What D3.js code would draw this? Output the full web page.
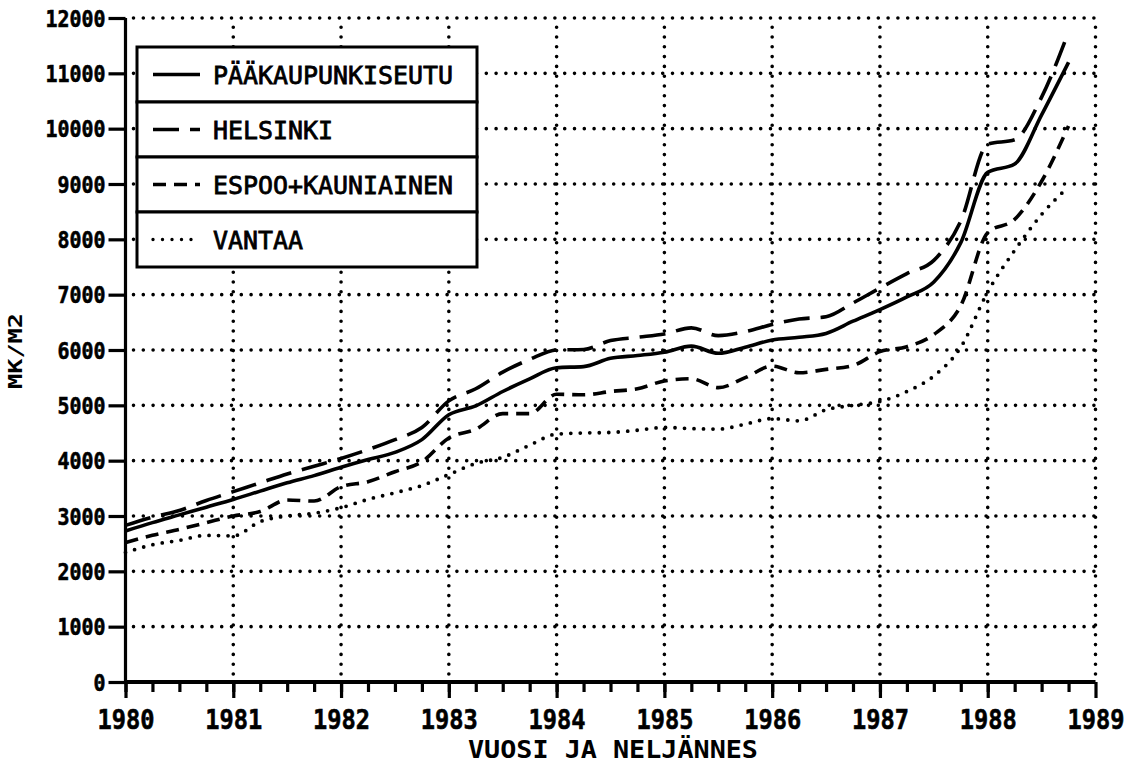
<!DOCTYPE html>
<html>
<head>
<meta charset="utf-8">
<script src="https://cdn.jsdelivr.net/npm/d3@7"></script>
<style>
    body { margin: 0; background: #fff; }
    svg text { font-family: "DejaVu Sans Mono", monospace; fill: #000; }
</style>
</head>
<body>
<svg id="chart" width="1133" height="768"></svg>
<script>
// quarterly data, MK/M2
var quarters = ["1980-1","1980-2","1980-3","1980-4","1981-1","1981-2","1981-3","1981-4",
                "1982-1","1982-2","1982-3","1982-4","1983-1","1983-2","1983-3","1983-4",
                "1984-1","1984-2","1984-3","1984-4","1985-1","1985-2","1985-3","1985-4",
                "1986-1","1986-2","1986-3","1986-4","1987-1","1987-2","1987-3","1987-4",
                "1988-1","1988-2","1988-3","1988-4"];

var paakaupunkiseutu = [2730,2880,3020,3160,3300,3450,3600,3730,3880,4020,4150,4380,
                        4830,4990,5250,5480,5680,5700,5850,5900,5960,6070,5940,6050,
                        6180,6230,6300,6520,6730,6960,7230,7940,9210,9360,10250,11200];
var helsinki = [2830,2980,3100,3280,3440,3600,3760,3900,4040,4200,4380,4600,
                5080,5300,5600,5830,6000,6010,6170,6230,6290,6400,6260,6330,
                6460,6560,6600,6850,7120,7380,7620,8330,9720,9800,10570,11750];
var espooKauniainen = [2520,2650,2760,2880,3000,3080,3290,3270,3530,3620,3800,3980,
                       4410,4570,4850,4850,5200,5190,5250,5300,5440,5480,5320,5500,
                       5710,5590,5650,5720,5970,6060,6280,6800,8120,8360,9050,10050];
var vantaa = [2340,2480,2560,2650,2640,2900,3000,3050,3150,3300,3420,3550,
              3750,3950,4060,4280,4480,4500,4510,4550,4600,4580,4570,4660,
              4760,4720,4920,5000,5070,5250,5530,6050,7050,7800,8450,8950];

var seriesNames = ["PÄÄKAUPUNKISEUTU", "HELSINKI", "ESPOO+KAUNIAINEN", "VANTAA"];
var yearTicks = [1980,1981,1982,1983,1984,1985,1986,1987,1988,1989];
var valueTicks = [0,1000,2000,3000,4000,5000,6000,7000,8000,9000,10000,11000,12000];

var dashStyles = ["none", "26,11", "13,8", "0,9.5"];

var svg = d3.select("#chart");
var x = d3.scaleLinear().domain([1980, 1989]).range([125.5, 1095.5]);
var y = d3.scaleLinear().domain([0, 12000]).range([682, 18]);

function quarterToYear(q) {
    var p = q.split("-");
    return +p[0] + (+p[1] - 1) / 4;
}

function drawGrid() {
    var g = svg.append("g");
    // horizontal dotted lines
    g.selectAll(".hgrid").data(valueTicks.slice(1)).enter().append("line")
        .attr("x1", x(1980) + 8).attr("x2", x(1989))
        .attr("y1", function(d){ return y(d); }).attr("y2", function(d){ return y(d); })
        .attr("stroke", "#000").attr("stroke-width", 3.6)
        .attr("stroke-linecap", "round").attr("stroke-dasharray", "0,9.8");
    // vertical dotted lines
    g.selectAll(".vgrid").data(yearTicks.slice(1)).enter().append("line")
        .attr("x1", function(d){ return x(d); }).attr("x2", function(d){ return x(d); })
        .attr("y1", y(0) - 8).attr("y2", y(12000))
        .attr("stroke", "#000").attr("stroke-width", 3.6)
        .attr("stroke-linecap", "round").attr("stroke-dasharray", "0,9.8");
}

function drawAxes() {
    // y axis with outside ticks
    var yAxis = d3.axisLeft(y).tickValues(valueTicks).tickSize(17).tickPadding(3)
        .tickFormat(d3.format("d"));
    var gy = svg.append("g").attr("transform", "translate(" + x(1980) + ",0)").call(yAxis);
    gy.select(".domain").attr("stroke-width", 3.2).attr("d", "M0," + y(0) + "V" + y(12000));
    gy.selectAll(".tick line").attr("stroke-width", 3.2);
    gy.selectAll(".tick text")
        .attr("font-size", 23).attr("font-weight", "bold")
        .attr("font-family", "DejaVu Sans Mono")
        .attr("dy", "0.36em")
        .attr("stroke", "#000").attr("stroke-width", 0.6)
        .attr("textLength", function(d){ return String(d).length * 12; })
        .attr("lengthAdjust", "spacingAndGlyphs");

    // quarterly minor ticks
    var minor = d3.axisBottom(x).tickValues(quarters.map(quarterToYear)).tickSize(10).tickFormat("");
    var gm = svg.append("g").attr("transform", "translate(0," + y(0) + ")").call(minor);
    gm.select(".domain").remove();
    gm.selectAll(".tick line").attr("stroke-width", 3.2);

    var xAxis = d3.axisBottom(x).tickValues(yearTicks).tickSize(16).tickPadding(12)
        .tickFormat(d3.format("d"));
    var gx = svg.append("g").attr("transform", "translate(0," + y(0) + ")").call(xAxis);
    gx.select(".domain").attr("stroke-width", 3.8).attr("d", "M" + x(1980) + ",0H" + x(1989));
    gx.selectAll(".tick line").attr("stroke-width", 3.2);
    gx.selectAll(".tick text")
        .attr("font-size", 27).attr("font-weight", "bold")
        .attr("font-family", "DejaVu Sans Mono")
        .attr("stroke", "#000").attr("stroke-width", 0.6)
        .attr("textLength", 57).attr("lengthAdjust", "spacingAndGlyphs");

    svg.append("text")
        .attr("x", 613).attr("y", 758)
        .attr("text-anchor", "middle")
        .attr("font-size", 25).attr("font-weight", "bold")
        .attr("textLength", 290).attr("lengthAdjust", "spacingAndGlyphs")
        .text("VUOSI JA NELJÄNNES");

    svg.append("text")
        .attr("transform", "translate(22,351) rotate(-90)")
        .attr("text-anchor", "middle")
        .attr("font-size", 20).attr("font-weight", "bold")
        .attr("textLength", 76).attr("lengthAdjust", "spacingAndGlyphs")
        .text("MK/M2");
}

function drawLines() {
    var all = [paakaupunkiseutu, helsinki, espooKauniainen, vantaa];
    var line = d3.line()
        .x(function(d, i){ return x(quarterToYear(quarters[i])); })
        .y(function(d){ return y(d); })
        .curve(d3.curveMonotoneX);

    all.forEach(function(values, k) {
        svg.append("path")
            .datum(values)
            .attr("fill", "none")
            .attr("stroke", "#000")
            .attr("stroke-width", k == 3 ? 3.8 : 3.6)
            .attr("stroke-linecap", k == 3 ? "round" : "butt")
            .attr("stroke-dasharray", dashStyles[k])
            .attr("d", line);
    });
}

function drawLegend() {
    var left = 137, top = 47, width = 340, rowH = 55;
    var g = svg.append("g");
    seriesNames.forEach(function(name, i) {
        var ry = top + i * rowH;
        g.append("rect")
            .attr("x", left).attr("y", ry)
            .attr("width", width).attr("height", rowH)
            .attr("fill", "#fff").attr("stroke", "#000").attr("stroke-width", 3);
        g.append("line")
            .attr("x1", 153).attr("x2", 200)
            .attr("y1", ry + rowH / 2).attr("y2", ry + rowH / 2)
            .attr("stroke", "#000").attr("stroke-width", 3.4)
            .attr("stroke-linecap", i == 3 ? "round" : "butt")
            .attr("stroke-dasharray", dashStyles[i]);
        g.append("text")
            .attr("x", 213).attr("y", ry + rowH / 2 + 9)
            .attr("font-size", 25)
            .attr("stroke", "#000").attr("stroke-width", 0.8)
            .attr("textLength", name.length * 15).attr("lengthAdjust", "spacingAndGlyphs")
            .text(name);
    });
}

drawGrid();
drawLines();
drawAxes();
drawLegend();
</script>
</body>
</html>
